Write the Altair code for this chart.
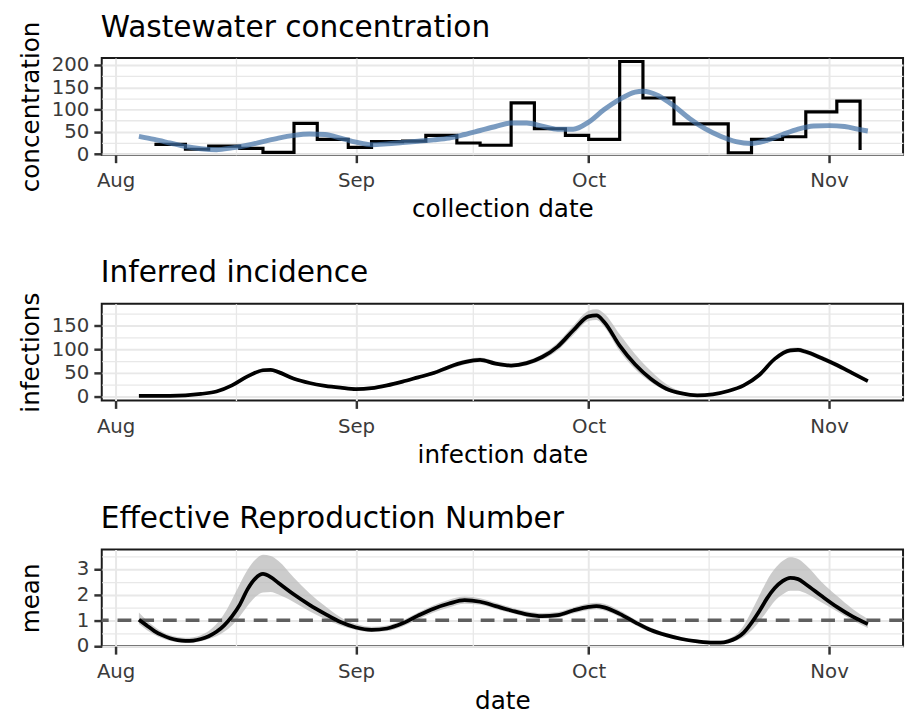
import altair as alt
import pandas as pd

BASE = pd.Timestamp("2023-08-01")  # day 0 of the x arrays

# ---------- Panel 1: wastewater concentration ----------
ww_day = [5, 9, 12, 16, 19, 23, 26, 30, 33, 37, 40, 44, 47, 51, 54, 58, 61, 65, 68, 72, 75, 79, 82, 86, 89, 93, 96]
ww_conc = [22, 11, 18, 13, 4, 69, 33, 15, 28, 29, 42, 25, 20, 115, 57, 42, 33, 208, 126, 68, 68, 3, 33, 39, 95, 119, 9]

fit_day = [3, 5, 7, 9, 11, 13, 15, 17, 19, 21, 23, 25, 27, 29,
           31, 33, 35, 37, 39, 41, 43, 45, 47, 49, 51, 53, 55, 57, 59,
           61, 63, 65, 67, 68, 70, 72, 74, 76, 78, 80, 82, 84, 86, 88, 90,
           92, 94, 96, 97]
fit_conc = [40, 33, 25, 17, 12, 10, 14, 20, 28, 36, 42, 45, 44, 36,
            27, 21, 23, 26, 29, 32, 36, 44, 53, 62, 70, 70, 63, 56, 56,
            72, 100, 123, 139, 141, 131, 108, 80, 57, 40, 28, 24, 31, 44, 56, 63,
            64, 62, 55, 52]

# ---------- Panel 2: inferred incidence ----------
inc_day = [3, 5, 7, 9, 11, 13, 15, 17, 19, 20, 21,
           23, 25, 27, 29, 31, 33, 35, 37, 39, 41, 43, 45, 47, 49, 51, 53, 55, 57, 59, 61,
           62, 63, 65, 67, 69, 71, 73, 75, 77, 79, 81, 83, 85, 87, 88, 89, 91, 93, 95, 97]
inc_mean = [2, 2, 2, 3, 6, 11, 24, 43, 56, 57, 52,
            38, 29, 23, 19, 16, 18, 24, 32, 41, 50, 63, 73, 78, 70, 66, 71, 84, 106, 140, 170,
            172, 158, 108, 68, 38, 17, 7, 3, 5, 12, 24, 46, 80, 98, 99, 95, 82, 67, 50, 33]
inc_lo = [0, 0, 0, 1, 4, 9, 21, 39, 52, 53, 48,
          35, 27, 21, 17, 14, 16, 21, 29, 38, 46, 58, 68, 73, 66, 62, 66, 78, 98, 130, 160,
          162, 148, 96, 58, 31, 12, 4, 1, 3, 10, 21, 42, 75, 93, 94, 90, 77, 62, 46, 30]
inc_hi = [4, 4, 4, 5, 8, 14, 27, 46, 60, 61, 56,
          41, 31, 25, 21, 18, 20, 27, 35, 44, 54, 67, 78, 83, 75, 70, 76, 90, 114, 150, 182,
          185, 176, 132, 90, 55, 27, 11, 5, 7, 14, 27, 51, 85, 103, 104, 100, 87, 72, 55, 37]

# ---------- Panel 3: effective reproduction number ----------
rt_day = [3, 4, 5, 6, 7, 8, 9, 10, 11, 12, 13, 14, 15, 16, 17, 18, 19, 20, 21,
          23, 25, 27, 29, 31, 33, 35, 37, 39, 41, 43, 45, 47, 49, 51, 53, 55, 57, 59, 61,
          62, 63, 65, 67, 69, 71, 73, 75, 77,
          78, 79, 80, 81, 82, 83, 84, 85, 86, 87, 88, 89, 91, 93, 95, 97]
rt_mean = [1.02, 0.8, 0.58, 0.42, 0.3, 0.23, 0.2, 0.21, 0.27, 0.38, 0.55, 0.8, 1.15, 1.6, 2.2, 2.62, 2.8, 2.68, 2.45,
           2.0, 1.6, 1.25, 0.93, 0.72, 0.63, 0.68, 0.88, 1.18, 1.45, 1.65, 1.78, 1.72, 1.55, 1.38, 1.23, 1.16, 1.2, 1.38, 1.52,
           1.55, 1.5, 1.25, 0.92, 0.62, 0.42, 0.27, 0.18, 0.13,
           0.13, 0.18, 0.3, 0.52, 0.9, 1.35, 1.85, 2.25, 2.52, 2.65, 2.6, 2.4, 1.95, 1.52, 1.15, 0.85]
rt_lo = [0.85, 0.62, 0.44, 0.3, 0.2, 0.14, 0.12, 0.13, 0.18, 0.27, 0.38, 0.55, 0.8, 1.15, 1.55, 1.9, 2.08, 2.1, 2.0,
         1.7, 1.35, 1.05, 0.8, 0.62, 0.54, 0.58, 0.76, 1.03, 1.3, 1.5, 1.64, 1.6, 1.44, 1.28, 1.13, 1.06, 1.1, 1.26, 1.4,
         1.43, 1.38, 1.13, 0.82, 0.53, 0.34, 0.2, 0.12, 0.08,
         0.08, 0.12, 0.2, 0.35, 0.6, 0.95, 1.35, 1.75, 2.0, 2.15, 2.15, 2.05, 1.7, 1.35, 1.0, 0.7]
rt_hi = [1.3, 1.0, 0.75, 0.55, 0.42, 0.35, 0.32, 0.34, 0.42, 0.58, 0.85, 1.25, 1.8, 2.4, 2.95, 3.35, 3.55, 3.5, 3.3,
         2.65, 2.05, 1.55, 1.12, 0.85, 0.75, 0.8, 1.0, 1.3, 1.58, 1.8, 1.92, 1.86, 1.68, 1.5, 1.35, 1.28, 1.32, 1.5, 1.65,
         1.68, 1.64, 1.38, 1.03, 0.72, 0.5, 0.34, 0.24, 0.2,
         0.2, 0.28, 0.45, 0.8, 1.35, 1.95, 2.55, 3.0, 3.3, 3.45, 3.38, 3.15, 2.5, 1.95, 1.45, 1.05]
rt_threshold = [1]

# tick values (labels shown only at the major ones)
y1_ticks = [0, 25, 50, 75, 100, 125, 150, 175, 200]
y2_ticks = [0, 25, 50, 75, 100, 125, 150, 175]
y3_ticks = [0, 0.5, 1, 1.5, 2, 2.5, 3, 3.5]

# text
titles = ["Wastewater concentration", "Inferred incidence", "Effective Reproduction Number"]
x_titles = ["collection date", "infection date", "date"]
y_titles = ["concentration", "infections", "mean"]


def to_dates(days):
    return [BASE + pd.Timedelta(days=d) for d in days]


ww_df = pd.DataFrame({"date": to_dates(ww_day), "value": ww_conc})
fit_df = pd.DataFrame({"date": to_dates(fit_day), "value": fit_conc})
inc_df = pd.DataFrame({"date": to_dates(inc_day), "mean": inc_mean, "lo": inc_lo, "hi": inc_hi})
rt_df = pd.DataFrame({"date": to_dates(rt_day), "mean": rt_mean, "lo": rt_lo, "hi": rt_hi})
thr_df = pd.DataFrame({"value": rt_threshold})

W, H = 812, 98
FONT = "DejaVu Sans"
TICK_COLOR = "#333333"
TITLE_SIZE = 30

x_domain = [alt.DateTime(year=2023, month=7, date=30, hours=5),
            alt.DateTime(year=2023, month=11, date=10, hours=13)]
x_values = [alt.DateTime(year=2023, month=8, date=1),
            alt.DateTime(year=2023, month=8, date=16, hours=12),
            alt.DateTime(year=2023, month=9, date=1),
            alt.DateTime(year=2023, month=9, date=16),
            alt.DateTime(year=2023, month=10, date=1),
            alt.DateTime(year=2023, month=10, date=16, hours=12),
            alt.DateTime(year=2023, month=11, date=1)]
MAJ_X = "date(datum.value) == 1"


def x_enc(title):
    return alt.X(
        "date:T",
        scale=alt.Scale(domain=x_domain, nice=False),
        axis=alt.Axis(
            title=title, values=x_values,
            labelExpr=f"{MAJ_X} ? timeFormat(datum.value, '%b') : ''",
            tickOpacity={"condition": {"test": MAJ_X, "value": 1}, "value": 0},
            gridWidth={"condition": {"test": MAJ_X, "value": 2}, "value": 1.3},
            tickWidth=2.5, tickSize=8, tickColor=TICK_COLOR,
            labelPadding=8, titleY=63, titleBaseline="alphabetic",
            labelOverlap=False, labelFlush=False,
        ),
    )


def y_enc(field, title, values, major, domain):
    test = f"abs(datum.value % {major}) < 1e-9"
    axis = alt.Axis(
        title=title, values=values,
        labelExpr=f"{test} ? format(datum.value, 'd') : ''",
        tickOpacity={"condition": {"test": test, "value": 1}, "value": 0},
        gridWidth={"condition": {"test": test, "value": 2}, "value": 1.3},
        tickWidth=2.5, tickSize=8, tickColor=TICK_COLOR,
        labelPadding=5, titleX=-64, titleY=H / 2, titleAlign="center",
        titleBaseline="alphabetic", titleAngle=270,
        labelOverlap=False, labelFlush=False,
    )
    return alt.Y(f"{field}:Q", scale=alt.Scale(domain=domain, nice=False, zero=False), axis=axis)


def title_layer(text):
    # baseline "top": the alphabetic baseline ends ~22px above the plot
    return alt.Chart(pd.DataFrame({"t": [text]})).mark_text(
        align="left", baseline="top", font=FONT, fontSize=TITLE_SIZE, color="black"
    ).encode(x=alt.value(-1), y=alt.value(-22 - 0.79 * TITLE_SIZE), text="t:N")


# Panel 1
x1 = x_enc(x_titles[0])
d1 = [-1.5, 215.6]
step = alt.Chart(ww_df).mark_line(interpolate="step-after", color="black", strokeWidth=3.2).encode(
    x=x1, y=y_enc("value", y_titles[0], y1_ticks, 50, d1))
fit = alt.Chart(fit_df).mark_line(interpolate="monotone", color="#4170A5", opacity=0.7,
                                  strokeWidth=5).encode(
    x=x1, y=y_enc("value", y_titles[0], y1_ticks, 50, d1))
p1 = alt.layer(step, fit, title_layer(titles[0])).properties(width=W, height=H)

# Panel 2
x2 = x_enc(x_titles[1])
d2 = [-8, 196.5]
band2 = alt.Chart(inc_df).mark_area(interpolate="monotone", color="#bbbbbb", opacity=0.75).encode(
    x=x2, y=y_enc("lo", y_titles[1], y2_ticks, 50, d2), y2="hi:Q")
line2 = alt.Chart(inc_df).mark_line(interpolate="monotone", color="black", strokeWidth=3.8).encode(
    x=x2, y=y_enc("mean", y_titles[1], y2_ticks, 50, d2))
p2 = alt.layer(band2, line2, title_layer(titles[1])).properties(width=W, height=H)

# Panel 3
x3 = x_enc(x_titles[2])
d3 = [-0.01, 3.75]
band3 = alt.Chart(rt_df).mark_area(interpolate="monotone", color="#bbbbbb", opacity=0.75).encode(
    x=x3, y=y_enc("lo", y_titles[2], y3_ticks, 1, d3), y2="hi:Q")
thr = alt.Chart(thr_df).mark_rule(color="#5f5f5f", strokeWidth=3.5, strokeDash=[14, 9]).encode(
    y=y_enc("value", y_titles[2], y3_ticks, 1, d3))
line3 = alt.Chart(rt_df).mark_line(interpolate="monotone", color="black", strokeWidth=3.8).encode(
    x=x3, y=y_enc("mean", y_titles[2], y3_ticks, 1, d3))
p3 = alt.layer(band3, thr, line3, title_layer(titles[2])).properties(width=W, height=H)

chart = alt.vconcat(p1, p2, p3, spacing=35).properties(
    padding={"left": 9, "top": -1, "right": 1, "bottom": 0}
).configure_view(
    stroke="#1a1a1a", strokeWidth=2
).configure_axis(
    domain=False, gridColor="#E8E8E8",
    labelFont=FONT, labelFontSize=20, labelColor="#3a3a3a",
    titleFont=FONT, titleFontSize=25, titleFontWeight="normal", titleColor="black",
)

chart.save("out.html", embed_options={"renderer": "svg", "actions": False})
